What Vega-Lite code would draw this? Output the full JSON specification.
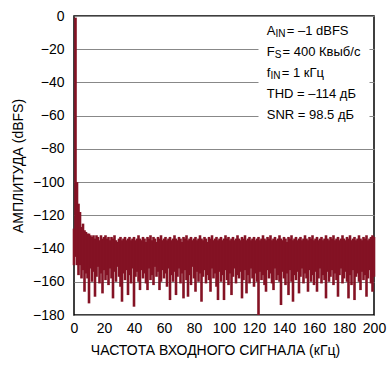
{
  "$schema": "https://vega.github.io/schema/vega-lite/v6.json",
  "autosize": {"type": "none"},
  "width": 300,
  "height": 299,
  "padding": {"left": 74, "top": 16, "right": 16, "bottom": 51},
  "background": "white",
  "config": {
    "view": {"stroke": "#000", "strokeWidth": 1.5},
    "font": "Liberation Sans",
    "axis": {"labelFont": "Liberation Sans", "titleFont": "Liberation Sans", "labelColor": "#000", "titleColor": "#000", "labelFontSize": 14, "titleFontSize": 14, "titleFontWeight": "normal"}
  },
  "datasets": {
    "fft": [
      {"f":0,"h":-128,"l":-150},{"f":1,"h":-1,"l":-145},{"f":2,"h":-100,"l":-150},{"f":3,"h":-113,"l":-156},{"f":4,"h":-118,"l":-150},
      {"f":5,"h":-127,"l":-158},{"f":6,"h":-125,"l":-153},{"f":7,"h":-129,"l":-166},{"f":8,"h":-130,"l":-155},{"f":9,"h":-131,"l":-158},
      {"f":10,"h":-131,"l":-173},{"f":11,"h":-132,"l":-152},{"f":12,"h":-133,"l":-160},{"f":13,"h":-132,"l":-154},{"f":14,"h":-134,"l":-169},
      {"f":15,"h":-132,"l":-157},{"f":16,"h":-133,"l":-151},{"f":17,"h":-135,"l":-161},{"f":18,"h":-132,"l":-155},{"f":19,"h":-134,"l":-167},
      {"f":20,"h":-133,"l":-153},{"f":21,"h":-132,"l":-159},{"f":22,"h":-134,"l":-156},{"f":23,"h":-133,"l":-162},{"f":24,"h":-135,"l":-152},
      {"f":25,"h":-133,"l":-158},{"f":26,"h":-134,"l":-170},{"f":27,"h":-132,"l":-154},{"f":28,"h":-135,"l":-160},{"f":29,"h":-136,"l":-151},
      {"f":30,"h":-134,"l":-157},{"f":31,"h":-133,"l":-163},{"f":32,"h":-135,"l":-172},{"f":33,"h":-134,"l":-155},{"f":34,"h":-133,"l":-159},
      {"f":35,"h":-135,"l":-153},{"f":36,"h":-134,"l":-168},{"f":37,"h":-133,"l":-156},{"f":38,"h":-135,"l":-161},{"f":39,"h":-134,"l":-152},
      {"f":40,"h":-133,"l":-175},{"f":41,"h":-135,"l":-157},{"f":42,"h":-134,"l":-154},{"f":43,"h":-132,"l":-160},{"f":44,"h":-134,"l":-165},
      {"f":45,"h":-135,"l":-153},{"f":46,"h":-133,"l":-158},{"f":47,"h":-134,"l":-155},{"f":48,"h":-136,"l":-161},{"f":49,"h":-133,"l":-165},
      {"f":50,"h":-134,"l":-152},{"f":51,"h":-132,"l":-159},{"f":52,"h":-135,"l":-156},{"f":53,"h":-133,"l":-162},{"f":54,"h":-134,"l":-151},
      {"f":55,"h":-136,"l":-157},{"f":56,"h":-133,"l":-154},{"f":57,"h":-134,"l":-165},{"f":58,"h":-132,"l":-160},{"f":59,"h":-135,"l":-153},
      {"f":60,"h":-134,"l":-158},{"f":61,"h":-133,"l":-155},{"f":62,"h":-135,"l":-163},{"f":63,"h":-134,"l":-152},{"f":64,"h":-133,"l":-171},
      {"f":65,"h":-135,"l":-156},{"f":66,"h":-134,"l":-160},{"f":67,"h":-132,"l":-154},{"f":68,"h":-134,"l":-168},{"f":69,"h":-135,"l":-157},
      {"f":70,"h":-133,"l":-152},{"f":71,"h":-134,"l":-161},{"f":72,"h":-136,"l":-155},{"f":73,"h":-133,"l":-170},{"f":74,"h":-134,"l":-153},
      {"f":75,"h":-132,"l":-159},{"f":76,"h":-135,"l":-169},{"f":77,"h":-134,"l":-156},{"f":78,"h":-133,"l":-162},{"f":79,"h":-135,"l":-151},
      {"f":80,"h":-134,"l":-158},{"f":81,"h":-133,"l":-166},{"f":82,"h":-135,"l":-154},{"f":83,"h":-134,"l":-160},{"f":84,"h":-132,"l":-155},
      {"f":85,"h":-134,"l":-172},{"f":86,"h":-135,"l":-157},{"f":87,"h":-133,"l":-153},{"f":88,"h":-134,"l":-161},{"f":89,"h":-136,"l":-156},
      {"f":90,"h":-133,"l":-159},{"f":91,"h":-134,"l":-166},{"f":92,"h":-132,"l":-152},{"f":93,"h":-135,"l":-158},{"f":94,"h":-134,"l":-155},
      {"f":95,"h":-133,"l":-163},{"f":96,"h":-135,"l":-171},{"f":97,"h":-134,"l":-154},{"f":98,"h":-133,"l":-160},{"f":99,"h":-135,"l":-156},
      {"f":100,"h":-134,"l":-171},{"f":101,"h":-132,"l":-153},{"f":102,"h":-134,"l":-159},{"f":103,"h":-133,"l":-162},{"f":104,"h":-135,"l":-155},
      {"f":105,"h":-134,"l":-168},{"f":106,"h":-133,"l":-157},{"f":107,"h":-135,"l":-152},{"f":108,"h":-134,"l":-161},{"f":109,"h":-132,"l":-156},
      {"f":110,"h":-134,"l":-158},{"f":111,"h":-135,"l":-154},{"f":112,"h":-133,"l":-170},{"f":113,"h":-134,"l":-159},{"f":114,"h":-132,"l":-153},
      {"f":115,"h":-135,"l":-167},{"f":116,"h":-134,"l":-156},{"f":117,"h":-133,"l":-161},{"f":118,"h":-135,"l":-152},{"f":119,"h":-134,"l":-158},
      {"f":120,"h":-133,"l":-163},{"f":121,"h":-135,"l":-155},{"f":122,"h":-134,"l":-160},{"f":123,"h":-133,"l":-180},{"f":124,"h":-135,"l":-154},
      {"f":125,"h":-134,"l":-159},{"f":126,"h":-132,"l":-156},{"f":127,"h":-134,"l":-162},{"f":128,"h":-135,"l":-166},{"f":129,"h":-133,"l":-153},
      {"f":130,"h":-134,"l":-158},{"f":131,"h":-132,"l":-155},{"f":132,"h":-135,"l":-161},{"f":133,"h":-134,"l":-165},{"f":134,"h":-133,"l":-152},
      {"f":135,"h":-135,"l":-159},{"f":136,"h":-134,"l":-156},{"f":137,"h":-132,"l":-160},{"f":138,"h":-134,"l":-174},{"f":139,"h":-135,"l":-154},
      {"f":140,"h":-133,"l":-158},{"f":141,"h":-134,"l":-162},{"f":142,"h":-136,"l":-155},{"f":143,"h":-133,"l":-168},{"f":144,"h":-134,"l":-153},
      {"f":145,"h":-132,"l":-160},{"f":146,"h":-135,"l":-172},{"f":147,"h":-134,"l":-156},{"f":148,"h":-133,"l":-159},{"f":149,"h":-135,"l":-154},
      {"f":150,"h":-134,"l":-167},{"f":151,"h":-133,"l":-157},{"f":152,"h":-135,"l":-152},{"f":153,"h":-134,"l":-161},{"f":154,"h":-132,"l":-155},
      {"f":155,"h":-134,"l":-158},{"f":156,"h":-135,"l":-166},{"f":157,"h":-133,"l":-153},{"f":158,"h":-134,"l":-160},{"f":159,"h":-132,"l":-156},
      {"f":160,"h":-135,"l":-162},{"f":161,"h":-134,"l":-154},{"f":162,"h":-133,"l":-166},{"f":163,"h":-135,"l":-158},{"f":164,"h":-134,"l":-152},
      {"f":165,"h":-133,"l":-161},{"f":166,"h":-135,"l":-156},{"f":167,"h":-134,"l":-159},{"f":168,"h":-132,"l":-170},{"f":169,"h":-134,"l":-154},
      {"f":170,"h":-135,"l":-160},{"f":171,"h":-133,"l":-157},{"f":172,"h":-134,"l":-153},{"f":173,"h":-132,"l":-162},{"f":174,"h":-135,"l":-155},
      {"f":175,"h":-134,"l":-159},{"f":176,"h":-133,"l":-169},{"f":177,"h":-135,"l":-156},{"f":178,"h":-134,"l":-152},{"f":179,"h":-132,"l":-161},
      {"f":180,"h":-134,"l":-158},{"f":181,"h":-135,"l":-154},{"f":182,"h":-133,"l":-160},{"f":183,"h":-134,"l":-170},{"f":184,"h":-132,"l":-156},
      {"f":185,"h":-135,"l":-162},{"f":186,"h":-134,"l":-153},{"f":187,"h":-133,"l":-171},{"f":188,"h":-135,"l":-157},{"f":189,"h":-134,"l":-155},
      {"f":190,"h":-132,"l":-160},{"f":191,"h":-134,"l":-165},{"f":192,"h":-135,"l":-154},{"f":193,"h":-133,"l":-159},{"f":194,"h":-134,"l":-156},
      {"f":195,"h":-132,"l":-169},{"f":196,"h":-135,"l":-158},{"f":197,"h":-134,"l":-153},{"f":198,"h":-133,"l":-161},{"f":199,"h":-132,"l":-166},
      {"f":200,"h":-133,"l":-157}
    ],
    "box": [{"x1": 123, "x2": 197, "y1": -5, "y2": -66}],
    "main": [
      {"t": "A", "x": 128.5, "y": -9},
      {"t": "F", "x": 128.5, "y": -21.6},
      {"t": "f", "x": 128.5, "y": -34.2},
      {"t": "THD = –114 дБ", "x": 128.5, "y": -46.8},
      {"t": "SNR = 98.5 дБ", "x": 128.5, "y": -59.4}
    ],
    "sub": [
      {"t": "IN", "x": 134.3, "y": -10.8},
      {"t": "S", "x": 133.8, "y": -23.4},
      {"t": "IN", "x": 131.0, "y": -36.0}
    ],
    "rest": [
      {"t": "= –1 dBFS", "x": 141.8, "y": -9},
      {"t": "= 400 Квыб/с", "x": 139.0, "y": -21.6},
      {"t": "= 1 кГц", "x": 138.5, "y": -34.2}
    ]
  },
  "layer": [
    {
      "data": {"name": "fft"},
      "mark": {"type": "rule", "color": "#841224", "strokeWidth": 2.6},
      "encoding": {
        "x": {"field": "f", "type": "quantitative", "scale": {"domain": [0, 200], "nice": false},
              "axis": {"values": [0,20,40,60,80,100,120,140,160,180,200], "tickCount": 30, "labelOverlap": false, "labelFlush": false, "grid": false, "ticks": false, "domain": false, "labelPadding": 6, "title": "ЧАСТОТА ВХОДНОГО СИГНАЛА (кГц)", "titlePadding": 8, "titleX": 141}},
        "y": {"field": "h", "type": "quantitative", "scale": {"domain": [-180, 0], "nice": false},
              "axis": {"values": [-180,-160,-140,-120,-100,-80,-60,-40,-20,0], "tickCount": 30, "labelOverlap": false, "labelFlush": false, "grid": true, "gridColor": "#888", "gridWidth": 1.2, "ticks": false, "domain": false, "labelPadding": 10, "title": "АМПЛИТУДА (dBFS)", "titlePadding": 7}},
        "y2": {"field": "l"}
      }
    },
    {
      "data": {"name": "box"},
      "mark": {"type": "rect", "fill": "white"},
      "encoding": {
        "x": {"field": "x1", "type": "quantitative"},
        "x2": {"field": "x2"},
        "y": {"field": "y1", "type": "quantitative"},
        "y2": {"field": "y2"}
      }
    },
    {
      "data": {"name": "main"},
      "mark": {"type": "text", "align": "left", "baseline": "middle", "fontSize": 13, "font": "Liberation Sans", "color": "#000"},
      "encoding": {
        "x": {"field": "x", "type": "quantitative"},
        "y": {"field": "y", "type": "quantitative"},
        "text": {"field": "t"}
      }
    },
    {
      "data": {"name": "sub"},
      "mark": {"type": "text", "align": "left", "baseline": "middle", "fontSize": 10, "font": "Liberation Sans", "color": "#000"},
      "encoding": {
        "x": {"field": "x", "type": "quantitative"},
        "y": {"field": "y", "type": "quantitative"},
        "text": {"field": "t"}
      }
    },
    {
      "data": {"name": "rest"},
      "mark": {"type": "text", "align": "left", "baseline": "middle", "fontSize": 13, "font": "Liberation Sans", "color": "#000"},
      "encoding": {
        "x": {"field": "x", "type": "quantitative"},
        "y": {"field": "y", "type": "quantitative"},
        "text": {"field": "t"}
      }
    }
  ]
}
